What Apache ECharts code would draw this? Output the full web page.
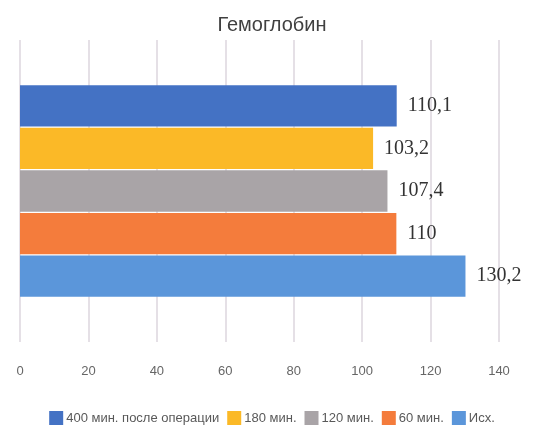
<!DOCTYPE html>
<html>
<head>
<meta charset="utf-8">
<script src="https://cdn.jsdelivr.net/npm/echarts@6/dist/echarts.min.js"></script>
<style>html,body{margin:0;padding:0;background:#fff;}#c{width:544px;height:435px;}</style>
</head>
<body>
<div id="c"></div>
<script>
const categories = ['Гемоглобин'];
const seriesNames = ['400 мин. после операции', '180 мин.', '120 мин.', '60 мин.', 'Исх.'];
const seriesValues = [[110.1], [103.2], [107.4], [110], [130.2]];
const valueLabels = ['110,1', '103,2', '107,4', '110', '130,2'];
const xTicks = [0, 20, 40, 60, 80, 100, 120, 140];
const colors = ['#4472C4', '#FBB927', '#A9A4A7', '#F47C3C', '#5B96DA'];

const chart = echarts.init(document.getElementById('c'), null, {renderer: 'canvas'});
chart.setOption({
  animation: false,
  backgroundColor: '#fff',
  title: {
    text: 'Гемоглобин', left: 'center', top: 10,
    textStyle: {fontFamily: 'Liberation Sans, Arial', fontSize: 20, fontWeight: 'normal', color: '#404040'}
  },
  legend: {
    data: seriesNames, bottom: 5, left: 'center', itemWidth: 14, itemHeight: 14, itemGap: 8,
    icon: 'rect',
    textStyle: {fontFamily: 'Liberation Sans, Arial', fontSize: 13, color: '#595959', padding: [0, 0, 0, -2]}
  },
  grid: {left: 20, right: 45, top: 40, bottom: 93},
  xAxis: {
    type: 'value', min: xTicks[0], max: xTicks[xTicks.length - 1], interval: 20,
    axisLine: {show: false}, axisTick: {show: false},
    splitLine: {show: true, lineStyle: {color: '#DCD6DE', width: 1.5}},
    axisLabel: {margin: 23, fontFamily: 'Liberation Sans, Arial', fontSize: 13, color: '#666'}
  },
  yAxis: {
    type: 'category', data: categories, inverse: true,
    axisLine: {show: false}, axisTick: {show: false}, axisLabel: {show: false}
  },
  series: seriesNames.map((name, i) => ({
    name: name, type: 'bar', data: seriesValues[i],
    barCategoryGap: '30%', barGap: '3%',
    itemStyle: {color: colors[i]},
    label: {
      show: true, position: 'right', distance: 11,
      formatter: () => valueLabels[i],
      fontFamily: 'Liberation Serif, Times New Roman', fontSize: 20, color: '#333'
    }
  }))
});
</script>
</body>
</html>
